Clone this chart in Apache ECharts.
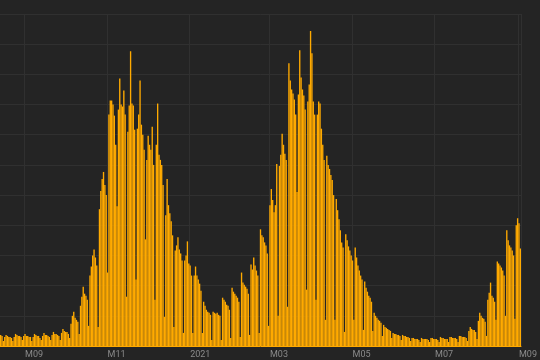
<!DOCTYPE html>
<html>
<head>
<meta charset="utf-8">
<script src="https://cdn.jsdelivr.net/npm/echarts@6/dist/echarts.min.js"></script>
<style>
html,body{margin:0;padding:0;background:#242424;}
#chart{width:540px;height:360px;}
</style>
</head>
<body>
<div id="chart"></div>
<script>
// Daily values (thousands), first day 2020-08-14
const startDate = '2020-08-14';
const dailyValues = [
 1.1,1.0,0.5,
 0.9,1.1,1.0,0.9,0.9,0.8,0.5,
 0.9,1.2,1.1,1.0,1.0,0.9,0.6,
 1.0,1.2,1.0,1.0,0.9,0.9,0.5,
 0.9,1.2,1.1,1.0,1.0,0.8,0.6,
 1.0,1.3,1.1,1.1,1.0,0.9,0.6,
 1.1,1.4,1.2,1.2,1.1,1.0,0.6,
 1.3,1.7,1.5,1.4,1.4,1.2,0.8,
 2.2,3.0,3.4,2.8,2.6,2.4,1.2,
 4.0,4.9,5.9,5.2,5.0,4.6,2.0,
 7.0,7.9,9.0,9.6,8.8,8.0,1.9,
 13.6,15.4,16.6,17.3,16.0,15.0,7.3,
 23.0,24.4,24.4,24.0,22.9,20.0,13.9,
 23.5,26.6,24.0,23.8,25.4,23.0,4.9,
 21.3,23.9,29.3,24.1,23.9,21.5,6.6,
 21.6,23.0,26.4,22.0,21.0,19.5,10.6,
 18.5,20.9,20.0,19.5,21.8,18.0,4.6,
 20.0,24.1,19.0,18.5,18.0,16.0,2.9,
 13.0,16.6,14.0,13.2,12.4,11.0,1.9,
 9.5,10.0,10.8,9.6,9.2,8.5,1.3,
 8.5,9.0,10.4,8.2,8.0,7.0,1.3,
 7.0,7.9,7.0,6.6,6.2,5.5,1.3,
 4.4,4.0,3.6,3.4,3.3,3.1,0.6,
 3.4,3.3,3.2,3.3,3.1,3.0,0.6,
 4.8,4.6,4.4,4.1,4.0,3.6,0.8,
 5.8,5.4,5.2,5.0,4.8,4.4,0.9,
 7.3,6.3,6.1,5.9,5.7,5.2,1.1,
 8.1,7.6,8.8,8.0,7.5,7.0,1.3,
 11.6,11.0,10.8,10.3,10.0,9.2,2.0,
 14.0,15.6,14.5,13.3,14.0,18.1,3.0,
 17.9,19.0,21.1,20.0,19.1,18.5,3.9,
 28.1,26.4,25.5,25.1,24.5,23.0,15.3,
 25.0,29.4,26.7,25.5,24.9,23.5,5.6,
 24.3,26.0,31.3,29.1,24.3,23.0,4.6,
 23.0,24.3,24.1,21.6,20.0,18.5,2.6,
 18.9,18.0,17.6,17.0,16.5,15.0,2.6,
 14.6,13.5,12.6,11.5,10.3,9.8,1.4,
 11.1,10.5,9.9,9.5,9.0,8.5,2.6,
 9.8,8.8,8.0,7.5,7.0,6.6,1.6,
 6.4,5.8,5.4,5.0,4.8,4.4,1.5,
 3.3,3.0,2.8,2.6,2.5,2.3,1.0,
 2.1,1.9,1.8,1.7,1.6,1.5,0.8,
 1.3,1.2,1.2,1.1,1.1,1.0,0.6,
 1.1,1.0,1.0,0.9,0.9,0.8,0.5,
 0.8,0.8,0.7,0.7,0.7,0.6,0.4,
 0.8,0.7,0.7,0.7,0.7,0.6,0.4,
 0.8,0.8,0.7,0.7,0.7,0.6,0.4,
 0.9,0.8,0.8,0.7,0.7,0.7,0.4,
 0.9,0.9,0.8,0.8,0.8,0.7,0.4,
 1.0,1.0,0.9,0.9,0.9,0.8,0.5,
 1.5,1.9,1.7,1.6,1.6,1.4,0.7,
 2.5,3.3,3.0,2.8,2.7,2.4,1.0,
 4.6,5.3,6.3,5.0,4.8,4.4,2.6,
 8.4,8.2,8.0,7.8,7.5,7.0,3.0,
 11.5,10.5,10.0,9.8,9.5,9.0,2.7,
 12.0,12.7,12.2,9.7
];
const tickDates = ['2020-09-01','2020-11-01','2021-01-01','2021-03-01','2021-05-01','2021-07-01','2021-09-01'];
const tickLabels = ['M09','M11','2021','M03','M05','M07','M09'];

// build date categories
const categories = [];
(function(){
  const d = new Date(startDate + 'T00:00:00Z');
  for (let i = 0; i < dailyValues.length; i++) {
    categories.push(d.toISOString().slice(0,10));
    d.setUTCDate(d.getUTCDate() + 1);
  }
})();
const tickMap = {};
tickDates.forEach((t, i) => { tickMap[t] = tickLabels[i]; });

const chart = echarts.init(document.getElementById('chart'), null, {renderer: 'canvas'});
chart.setOption({
  backgroundColor: '#242424',
  animation: false,
  grid: {left: 0, right: 19, top: 14, bottom: 14, containLabel: false},
  xAxis: {
    type: 'category',
    data: categories,
    boundaryGap: true,
    axisTick: {show: false},
    axisLine: {show: true, lineStyle: {color: '#ffaa00', width: 1}},
    axisLabel: {
      interval: (idx, val) => tickMap[val] !== undefined,
      formatter: (val) => tickMap[val] || '',
      color: '#8a8a8a',
      fontSize: 9,
      fontFamily: 'Roboto, sans-serif',
      align: 'left',
      margin: 4
    },
    splitLine: {
      show: true,
      interval: (idx, val) => tickMap[val] !== undefined,
      lineStyle: {color: '#303030', width: 1}
    }
  },
  yAxis: {
    type: 'value',
    min: 0,
    max: 33,
    interval: 3,
    axisLabel: {show: false},
    axisLine: {show: false},
    axisTick: {show: false},
    splitLine: {show: true, lineStyle: {color: '#303030', width: 1}}
  },
  series: [{
    type: 'bar',
    data: dailyValues,
    barCategoryGap: '0%',
    itemStyle: {color: '#ffaa00'},
    large: false
  }]
});
</script>
</body>
</html>
